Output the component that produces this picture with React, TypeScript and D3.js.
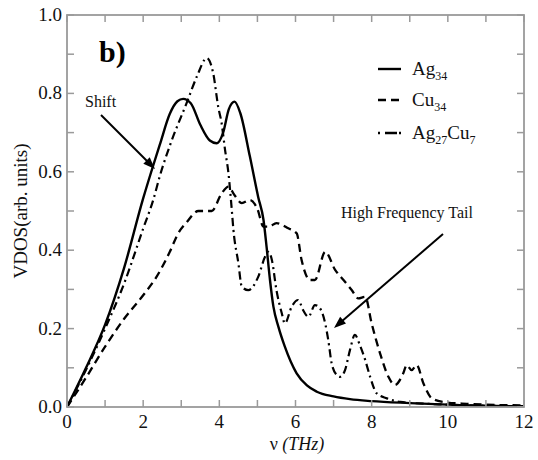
import React from "react";
import * as d3 from "d3";

// ---- data ----
const ag34Freq = [0, 0.5, 1.0, 1.5, 2.0, 2.27, 2.44, 2.7, 2.9, 3.05, 3.25, 3.5, 3.75, 3.93, 4.1, 4.25, 4.4, 4.55, 4.8, 5.02, 5.16, 5.24, 5.33, 5.42, 5.55, 5.72, 6.03, 6.3, 6.56, 7.0, 7.43, 8.0, 9.0, 10, 11, 12];
const ag34Vdos = [0, 0.1, 0.21, 0.355, 0.532, 0.618, 0.67, 0.748, 0.78, 0.786, 0.775, 0.72, 0.68, 0.673, 0.7, 0.76, 0.779, 0.75, 0.64, 0.536, 0.477, 0.409, 0.324, 0.256, 0.205, 0.154, 0.086, 0.055, 0.039, 0.027, 0.02, 0.015, 0.01, 0.006, 0.003, 0.002];

const cu34Freq = [0, 0.5, 1.0, 1.5, 2.0, 2.35, 2.7, 2.92, 3.14, 3.45, 3.8, 4.06, 4.24, 4.4, 4.59, 4.8, 5.0, 5.16, 5.3, 5.5, 5.81, 6.03, 6.16, 6.38, 6.51, 6.78, 7.04, 7.26, 7.48, 7.65, 7.83, 8.0, 8.22, 8.44, 8.61, 8.83, 8.92, 9.05, 9.18, 9.36, 9.58, 9.88, 10.5, 11, 12];
const cu34Vdos = [0, 0.075, 0.154, 0.225, 0.285, 0.332, 0.396, 0.443, 0.471, 0.5, 0.5, 0.545, 0.562, 0.54, 0.52, 0.528, 0.505, 0.46, 0.46, 0.469, 0.456, 0.443, 0.375, 0.324, 0.324, 0.396, 0.35, 0.324, 0.298, 0.277, 0.281, 0.213, 0.137, 0.077, 0.056, 0.086, 0.107, 0.094, 0.107, 0.06, 0.022, 0.013, 0.008, 0.006, 0.004];

const ag27cu7Freq = [0, 0.5, 1.0, 1.5, 2.0, 2.27, 2.44, 2.75, 3.14, 3.41, 3.67, 3.84, 3.97, 4.06, 4.15, 4.24, 4.32, 4.37, 4.5, 4.59, 4.76, 5.02, 5.2, 5.29, 5.38, 5.5, 5.64, 5.72, 5.9, 6.07, 6.2, 6.34, 6.51, 6.64, 6.78, 6.86, 6.95, 7.08, 7.17, 7.3, 7.43, 7.56, 7.69, 7.83, 7.96, 8.13, 8.4, 8.75, 10, 12];
const ag27cu7Vdos = [0, 0.095, 0.2, 0.315, 0.455, 0.53, 0.59, 0.68, 0.775, 0.843, 0.89, 0.851, 0.766, 0.724, 0.656, 0.596, 0.511, 0.452, 0.367, 0.307, 0.298, 0.332, 0.383, 0.396, 0.375, 0.298, 0.239, 0.213, 0.256, 0.273, 0.247, 0.23, 0.26, 0.252, 0.213, 0.171, 0.111, 0.082, 0.077, 0.094, 0.145, 0.184, 0.158, 0.12, 0.077, 0.035, 0.022, 0.013, 0.006, 0.002];

const xTickLabels = ["0", "2", "4", "6", "8", "10", "12"];
const yTickLabels = ["0.0", "0.2", "0.4", "0.6", "0.8", "1.0"];

const seriesNames = ["Ag", "Cu", "Ag"];

const W = 538;
const H = 460;
const left = 67;
const right = 524;
const top = 15;
const bottom = 407;
const FONT = "'Liberation Serif', 'Times New Roman', serif";
const AXIS = "#9a9a9a";

export default function App() {
  const x = d3.scaleLinear().domain([0, 12]).range([left, right]);
  const y = d3.scaleLinear().domain([0, 1]).range([bottom, top]);

  const line = d3
    .line<[number, number]>()
    .x((d) => x(d[0]))
    .y((d) => y(d[1]))
    .curve(d3.curveMonotoneX);

  const zip = (a: number[], b: number[]) => a.map((v, i) => [v, b[i]] as [number, number]);

  const series = [
    { data: zip(ag34Freq, ag34Vdos), dash: "none", w: 2.4 },
    { data: zip(cu34Freq, cu34Vdos), dash: "8,5", w: 2.3 },
    { data: zip(ag27cu7Freq, ag27cu7Vdos), dash: "8,4,2,4", w: 2.2 },
  ];

  const xMinor = d3.range(0, 13, 1);
  const yMinor = d3.range(0, 1.0001, 0.1);
  const tickLen = 7;

  const arrowHead = (x1: number, y1: number, x2: number, y2: number) => {
    const ang = Math.atan2(y2 - y1, x2 - x1);
    const L = 12;
    const Wd = 4.5;
    const bx = x2 - L * Math.cos(ang);
    const by = y2 - L * Math.sin(ang);
    const px = -Math.sin(ang) * Wd;
    const py = Math.cos(ang) * Wd;
    return `M${x2},${y2}L${bx + px},${by + py}L${bx - px},${by - py}Z`;
  };

  return (
    <svg
      width={W}
      height={H}
      style={{ position: "absolute", left: 0, top: 0, background: "#fff" }}
      fontFamily={FONT}
    >
      <rect x={0} y={0} width={W} height={H} fill="#fff" />
      {/* curves */}
      {series.map((s, i) => (
        <path
          key={i}
          d={line(s.data) || ""}
          fill="none"
          stroke="#000"
          strokeWidth={s.w}
          strokeDasharray={s.dash}
          strokeLinejoin="round"
        />
      ))}

      {/* frame */}
      <rect x={left} y={top} width={right - left} height={bottom - top} fill="none" stroke={AXIS} strokeWidth={1.8} />

      {/* x ticks */}
      {xMinor.map((v) => (
        <g key={"xt" + v}>
          <line x1={x(v)} x2={x(v)} y1={bottom} y2={bottom - tickLen} stroke={AXIS} strokeWidth={1.5} />
          <line x1={x(v)} x2={x(v)} y1={top} y2={top + tickLen} stroke={AXIS} strokeWidth={1.5} />
        </g>
      ))}
      {/* y ticks */}
      {yMinor.map((v) => (
        <g key={"yt" + v}>
          <line x1={left} x2={left + tickLen} y1={y(v)} y2={y(v)} stroke={AXIS} strokeWidth={1.5} />
          <line x1={right} x2={right - tickLen} y1={y(v)} y2={y(v)} stroke={AXIS} strokeWidth={1.5} />
        </g>
      ))}

      {/* tick labels */}
      {xTickLabels.map((t) => (
        <text key={"xl" + t} x={x(+t)} y={428} textAnchor="middle" fontSize={19} fill="#111">
          {t}
        </text>
      ))}
      {yTickLabels.map((t) => (
        <text key={"yl" + t} x={62} y={y(+t) + 6} textAnchor="end" fontSize={19} fill="#111">
          {t}
        </text>
      ))}

      {/* axis titles */}
      <text x={297} y={450} textAnchor="middle" fontSize={18} fill="#111">
        ν <tspan fontStyle="italic">(THz)</tspan>
      </text>
      <text
        transform={`translate(${27},${211}) rotate(-90)`}
        textAnchor="middle"
        fontSize={19}
        fill="#111"
      >
        VDOS(arb. units)
      </text>

      {/* panel label */}
      <text x={99} y={62} fontSize={30} fontWeight="bold" fill="#000">
        b)
      </text>

      {/* legend */}
      {series.map((s, i) => {
        const ly = [69, 100, 133][i];
        return (
          <g key={"lg" + i}>
            <line
              x1={378}
              x2={401}
              y1={ly}
              y2={ly}
              stroke="#000"
              strokeWidth={2.4}
              strokeDasharray={i === 0 ? "none" : i === 1 ? "8,5" : "2,5,12"}
            />
            <text x={412} y={ly + 6} fontSize={19} fill="#111">
              {seriesNames[i]}
              <tspan fontSize={12} dy={5}>{i === 2 ? "27" : "34"}</tspan>
              {i === 2 && (
                <>
                  <tspan dy={-5}>Cu</tspan>
                  <tspan fontSize={12} dy={5}>7</tspan>
                </>
              )}
            </text>
          </g>
        );
      })}

      {/* annotations */}
      <text x={85} y={107} fontSize={16} fill="#111">
        Shift
      </text>
      <line x1={101} y1={115} x2={148} y2={162} stroke="#000" strokeWidth={2} />
      <path d={arrowHead(101, 115, 155, 169)} fill="#000" />

      <text x={341} y={218} fontSize={16} fill="#111">
        High Frequency Tail
      </text>
      <line x1={443} y1={234} x2={341} y2={322} stroke="#000" strokeWidth={2} />
      <path d={arrowHead(443, 234, 334, 328)} fill="#000" />
    </svg>
  );
}
